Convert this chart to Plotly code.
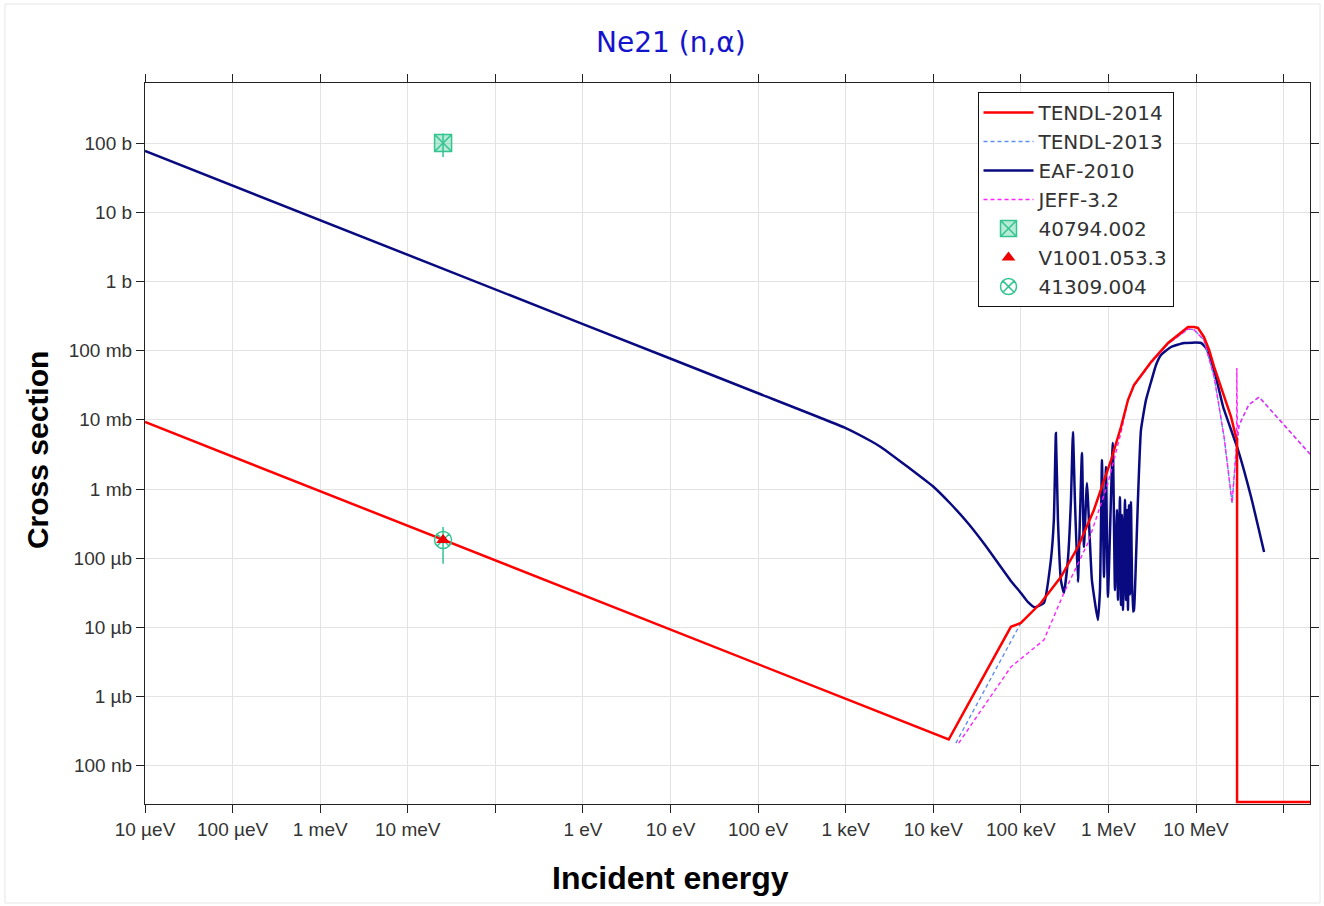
import plotly.graph_objects as go

# ---------------- data (energy in eV, cross section in barns) ----------------
eaf_E = [1e-5, 1.0, 100, 1000, 1932, 2512, 4256, 6310, 1.01e4, 1.585e4, 2.48e4, 3.98e4, 5.9e4,
         7.69e4, 1.0e5, 1.2e5, 1.44e5, 1.83e5,
         2.2e5, 2.38e5, 2.51e5, 2.65e5, 2.86e5, 3.1e5, 3.44e5, 3.73e5, 3.93e5, 4.14e5, 4.48e5,
         4.98e5, 5.25e5, 5.68e5, 6.47e5, 7.58e5, 8.0e5, 8.43e5, 8.89e5, 9.36e5, 9.86e5, 1.12e6,
         1.186e6, 1.25e6, 1.284e6, 1.353e6, 1.389e6, 1.426e6, 1.465e6, 1.544e6, 1.585e6, 1.627e6,
         1.671e6, 1.715e6, 1.761e6, 1.807e6, 1.905e6, 1.955e6, 2.06e6, 2.17e6, 2.35e6, 2.68e6,
         3.06e6, 3.49e6, 3.98e6, 5.18e6, 7.29e6, 1.14e7, 1.3e7, 1.48e7, 1.74e7, 2.04e7, 3.02e7,
         4.25e7, 5.98e7]
eaf_xs = [76.6, 0.242, 0.0242, 7.6e-3, 4.94e-3, 4.05e-3, 2.48e-3, 1.70e-3, 1.07e-3, 6.07e-4, 3.23e-4, 1.5e-4, 7.46e-5,
          4.69e-5, 3.14e-5, 2.33e-5, 1.95e-5, 2.25e-5,
          9.4e-5, 3.56e-4, 6.44e-3, 3.56e-4, 4.84e-5, 3.14e-5, 9.4e-5, 6.9e-4, 6.67e-3, 6.9e-4, 4.53e-5,
          3.31e-3, 1.45e-4, 1.22e-3, 4.84e-5, 1.28e-5, 3.47e-5, 2.62e-3, 5.35e-5, 2.08e-3, 2.75e-5, 4.62e-3,
          3.47e-5, 4.98e-4, 2.49e-5, 7.65e-4, 2.1e-5, 4.2e-4, 1.78e-5, 7.0e-4, 2.49e-5, 4.98e-4,
          1.78e-5, 5.8e-4, 3.0e-5, 6.5e-4, 1.7e-5, 1.78e-5, 9.4e-5, 6.93e-4, 7.13e-3, 0.0193,
          0.0352, 0.062, 0.0863, 0.1127, 0.1288, 0.1288, 0.109, 0.0731, 0.0352, 0.0153, 3.66e-3,
          7.66e-4, 1.23e-4]

tendl14_E = [1e-5, 1.5e4, 2.23e4, 7.69e4, 1.0e5, 1.69e5, 2.86e5, 4.48e5, 6.82e5, 1.07e6, 1.39e6, 1.67e6,
             1.955e6, 2.35e6, 3.06e6, 4.79e6, 6.74e6, 8.1e6, 9.5e6, 1.05e7, 1.23e7, 1.41e7, 1.61e7,
             2.04e7, 2.51e7, 2.86e7, 2.94e7, 2.94e7, 2.0e8]
tendl14_xs = [9.29e-3, 2.4e-7, 5.98e-7, 1.02e-5, 1.16e-5, 2.25e-5, 5.35e-5, 1.45e-4, 4.98e-4, 2.62e-3, 7.87e-3, 0.0193,
              0.0318, 0.0443, 0.0684, 0.1288, 0.1795, 0.2193, 0.2193, 0.2127, 0.1575, 0.102, 0.058,
              0.0244, 0.011, 5.64e-3, 5.3e-3, 3e-8, 3e-8]

tendl13_E = [1.81e4, 1.0e5, 1.69e5, 2.86e5, 4.48e5, 6.82e5, 1.07e6, 1.39e6, 1.67e6, 1.955e6, 2.35e6,
             3.06e6, 4.79e6, 6.74e6, 8.1e6, 9.5e6, 1.23e7, 1.61e7, 2.09e7, 2.58e7, 2.94e7, 3.1e7,
             4.0e7, 5.25e7, 2.0e8]
tendl13_xs = [2.13e-7, 1.16e-5, 2.25e-5, 5.35e-5, 1.45e-4, 4.98e-4, 2.62e-3, 7.87e-3, 0.0193, 0.031, 0.042,
              0.066, 0.125, 0.172, 0.205, 0.2, 0.142, 0.0415, 5.64e-3, 6.28e-4, 5.1e-3, 8.4e-3,
              0.0165, 0.0213, 3.2e-3]

jeff_E = [1.95e4, 4.2e4, 7.69e4, 1.83e5, 3.1e5, 5.83e5, 9.86e5, 1.39e6, 1.67e6, 1.955e6, 2.35e6,
          3.06e6, 4.79e6, 6.74e6, 8.1e6, 9.5e6, 1.23e7, 1.61e7, 2.09e7, 2.58e7, 2.9e7, 2.92e7,
          2.97e7, 3.1e7, 4.0e7, 5.25e7, 2.0e8]
jeff_xs = [2.13e-7, 8.93e-7, 2.68e-6, 6.58e-6, 3.14e-5, 1.66e-4, 1.22e-3, 6.5e-3, 0.0193, 0.031, 0.042,
           0.066, 0.125, 0.172, 0.205, 0.2, 0.142, 0.0415, 5.64e-3, 6.28e-4, 4.5e-3, 0.0561,
           5.1e-3, 8.4e-3, 0.0165, 0.0213, 3.2e-3]

exp_40794_E = [0.0253]
exp_40794_xs = [100.0]
exp_40794_err = [37.0]

exp_v1001_E = [0.0253]
exp_v1001_xs = [1.83e-4]

exp_41309_E = [0.0253]
exp_41309_xs = [1.83e-4]
exp_41309_err = [1.0e-4]

x_tickvals = [1e-5, 1e-4, 1e-3, 1e-2, 1e-1, 1, 10, 100, 1e3, 1e4, 1e5, 1e6, 1e7, 1e8]
x_ticktext = ["10 µeV", "100 µeV", "1 meV", "10 meV", "", "1 eV", "10 eV", "100 eV",
              "1 keV", "10 keV", "100 keV", "1 MeV", "10 MeV", ""]
y_tickvals = [1e-7, 1e-6, 1e-5, 1e-4, 1e-3, 1e-2, 1e-1, 1, 10, 100]
y_ticktext = ["100 nb", "1 µb", "10 µb", "100 µb", "1 mb", "10 mb", "100 mb", "1 b", "10 b", "100 b"]

# ---------------- figure ----------------
GREEN = "#33c48f"
fig = go.Figure()

fig.add_trace(go.Scatter(x=eaf_E, y=eaf_xs, mode="lines", name="EAF-2010", legendrank=3,
                         line=dict(color="#0a0a80", width=2.5, shape="spline", smoothing=0.4)))
fig.add_trace(go.Scatter(x=tendl13_E, y=tendl13_xs, mode="lines", name="TENDL-2013", legendrank=2,
                         line=dict(color="#5f8ff0", width=1.4, dash="4px,3px")))
fig.add_trace(go.Scatter(x=jeff_E, y=jeff_xs, mode="lines", name="JEFF-3.2", legendrank=4,
                         line=dict(color="#ff22ff", width=1.4, dash="4px,3px")))
fig.add_trace(go.Scatter(x=tendl14_E, y=tendl14_xs, mode="lines", name="TENDL-2014", legendrank=1,
                         line=dict(color="#ff0000", width=2.5)))

fig.add_trace(go.Scatter(x=exp_40794_E, y=exp_40794_xs, mode="markers", name="40794.002", legendrank=5,
                         marker=dict(symbol="square-x", size=17, color="rgba(51,196,143,0.35)",
                                     line=dict(color=GREEN, width=1.5)),
                         error_y=dict(type="data", array=exp_40794_err, color=GREEN, thickness=1.5, width=0)))
fig.add_trace(go.Scatter(x=exp_41309_E, y=exp_41309_xs, mode="markers", name="41309.004", legendrank=7,
                         marker=dict(symbol="circle-x-open", size=17, color=GREEN,
                                     line=dict(color=GREEN, width=1.5)),
                         error_y=dict(type="data", array=exp_41309_err, color=GREEN, thickness=1.5, width=0)))
fig.add_trace(go.Scatter(x=exp_v1001_E, y=exp_v1001_xs, mode="markers", name="V1001.053.3", legendrank=6,
                         marker=dict(symbol="triangle-up", size=12, color="#ee0000")))

axis_common = dict(
    type="log", showgrid=True, gridcolor="#e3e3e3", gridwidth=1,
    showline=True, linecolor="#222222", linewidth=1.2, mirror="ticks",
    ticks="outside", ticklen=8, tickcolor="#222222", tickwidth=1,
    tickfont=dict(family="Liberation Sans, Arial, sans-serif", size=19, color="#333333"),
    zeroline=False, automargin=False,
)

fig.update_layout(
    width=1324, height=906,
    margin=dict(l=145, r=14, t=83, b=102),
    paper_bgcolor="white", plot_bgcolor="white",
    showlegend=True,
    legend=dict(x=0.7146, y=0.9875, xanchor="left", yanchor="top",
                bgcolor="white", bordercolor="#111111", borderwidth=1,
                itemwidth=50,
                font=dict(family="DejaVu Sans, sans-serif", size=20, color="#333333"),
                traceorder="normal"),
    xaxis=dict(axis_common, range=[-5, 8.301], tickvals=x_tickvals, ticktext=x_ticktext),
    yaxis=dict(axis_common, range=[-7.552, 2.867], tickvals=y_tickvals, ticktext=y_ticktext),
    annotations=[
        dict(text="Ne21 (n,α)", xref="paper", yref="paper", x=0.4515, y=1.0555,
             xanchor="center", yanchor="middle", showarrow=False,
             font=dict(family="DejaVu Sans, sans-serif", size=28, color="#1414cc")),
        dict(text="<b>Incident energy</b>", xref="paper", yref="paper", x=0.4515, y=-0.1026,
             xanchor="center", yanchor="middle", showarrow=False,
             font=dict(family="Liberation Sans, Arial, sans-serif", size=32, color="#000000")),
        dict(text="<b>Cross section</b>", xref="paper", yref="paper", x=-0.0918, y=0.491,
             xanchor="center", yanchor="middle", showarrow=False, textangle=-90,
             font=dict(family="Liberation Sans, Arial, sans-serif", size=30, color="#000000")),
    ],
    shapes=[
        dict(type="rect", xref="paper", yref="paper", x0=-0.1202, x1=1.0086, y0=-0.1373, y1=1.1096,
             line=dict(color="#e6e6e6", width=1), layer="below"),
    ],
)

fig.write_html("out.html")
